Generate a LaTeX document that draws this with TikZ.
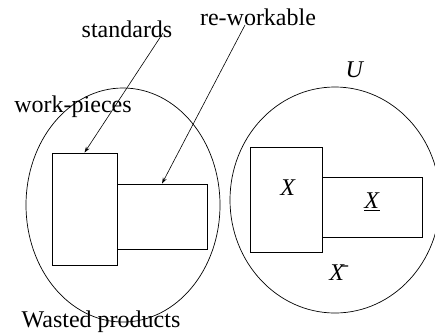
\documentclass[tikz,border=0pt]{standalone}
\usepackage{fontspec}
\setmainfont{Liberation Serif}
\usetikzlibrary{arrows.meta}

\tikzset{
  label/.style={inner sep=0pt, font=\fontsize{24}{28}\selectfont},
  part/.style={draw, line width=0.8pt, inner sep=0pt},
  pointer/.style={line width=0.6pt, -{Stealth[length=6pt,width=4pt]}}
}

\begin{document}
\begin{tikzpicture}[x=1pt, y=-1pt, line width=0.7pt]

    \useasboundingbox (0,0) rectangle (435,335);

    % left set: work-pieces
    \draw (123,205) ellipse [x radius=97, y radius=117];
    \node[part, minimum width=65pt, minimum height=112pt] (tallL) at (84.5,209) {};
    \node[part, minimum width=90pt, minimum height=65pt] (wideL) at (162,216.5) {};

    % right set: U
    \draw (335,200) ellipse [x radius=105, y radius=113];
    \node[part, minimum width=72pt, minimum height=105pt] (tallR) at (286,199.5) {};
    \node[part, minimum width=100pt, minimum height=60pt] (wideR) at (372,207) {};

    % labels
    \node[label] (std) at (127,29) {standards};
    \node[label] (rew) at (258,17) {re-workable};
    \node[label] (wp) at (73,107) {work-pieces};
    \node[label] (wasted) at (101,322) {Wasted products};
    \node[label] (u) at (355,70) {\textit{U}};
    \node[label] (x) at (288,188) {\textit{X}};
    \node[label] (xu) at (372,202) {\underline{\textit{X}}};
    \node[label] (xb) at (337,273) {\={\textit{X}}};

    % pointers
    \coordinate (stdfoot) at (163,33);
    \coordinate (rewfoot) at (245,25);
    \draw[pointer] (stdfoot) -- (tallL.north);
    \draw[pointer] (rewfoot) -- (wideL.north);

\end{tikzpicture}
\end{document}
